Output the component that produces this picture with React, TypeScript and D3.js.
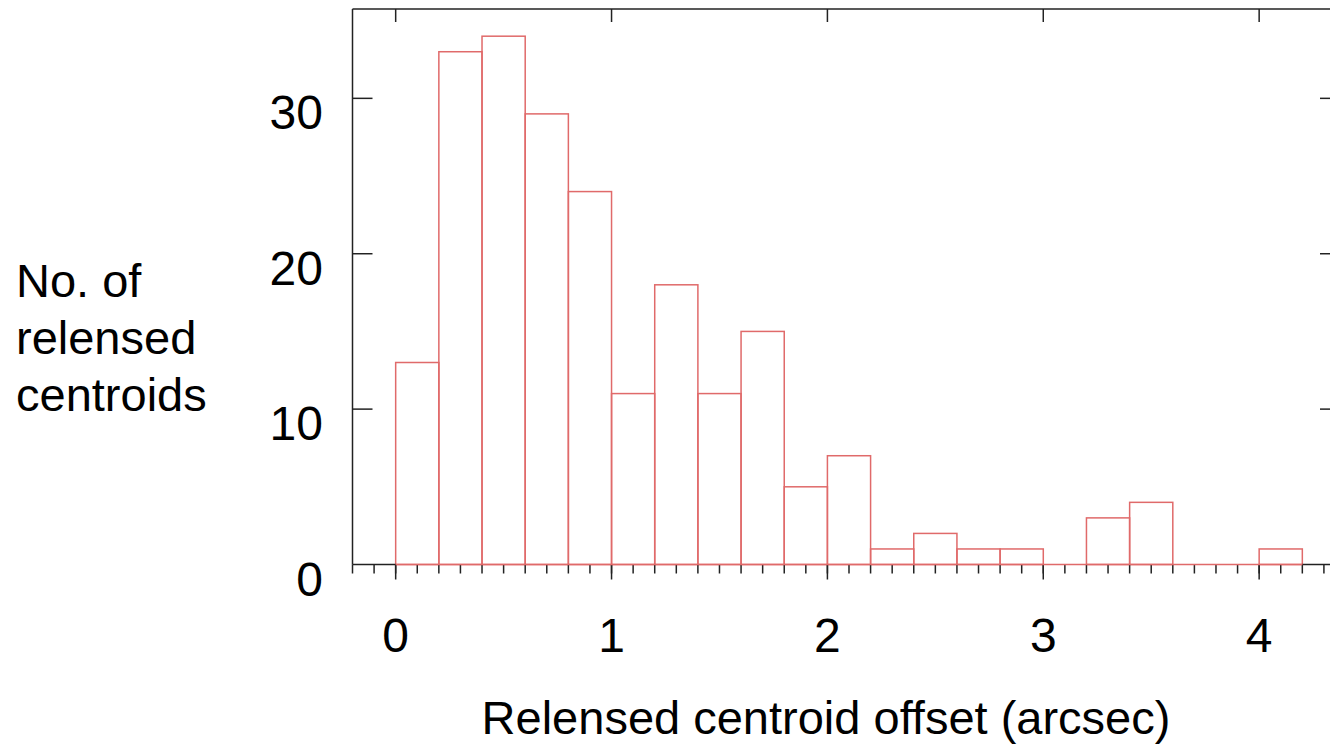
import React from 'react';
import * as d3 from 'd3';

// histogram bins (arcsec) and counts
const binLeft = [0, 0.2, 0.4, 0.6, 0.8, 1.0, 1.2, 1.4, 1.6, 1.8, 2.0, 2.2, 2.4, 2.6, 2.8, 3.0, 3.2, 3.4, 3.6, 3.8, 4.0];
const counts = [13, 33, 34, 29, 24, 11, 18, 11, 15, 5, 7, 1, 2, 1, 1, 0, 3, 4, 0, 0, 1];
const binWidth = 0.2;

const xTicks = [0, 1, 2, 3, 4];
const yTicks = [0, 10, 20, 30];
const yLabelLines = ['No. of', 'relensed', 'centroids'];
const xLabel = 'Relensed centroid offset (arcsec)';

const W = 1330;
const H = 745;
const left = 352.5;
const right = 1336;
const top = 9;
const bottom = 564.5;

const font = '"Liberation Sans", Arial, sans-serif';
const axisColor = '#222';
const barColor = '#e06a6a';

const App = () => {
  const x = d3.scaleLinear().domain([-0.2, 4.356]).range([left, right]);
  const y = d3.scaleLinear().domain([0, 35.75]).range([bottom, top]);

  const minor = d3.range(-2, 44).map(i => i / 10);

  return (
    <div style={{ position: 'absolute', left: 0, top: 0, width: W, height: H, overflow: 'hidden', background: '#fff' }}>
      <svg width={W} height={H}>
        {/* bars */}
        <g fill="none" stroke={barColor} strokeWidth={1.5}>
          {binLeft.map((b, i) => (
            <rect
              key={i}
              x={x(b)}
              y={y(counts[i])}
              width={x(b + binWidth) - x(b)}
              height={y(0) - y(counts[i])}
            />
          ))}
        </g>

        {/* frame */}
        <g stroke={axisColor} strokeWidth={1.5} fill="none">
          <line x1={left} y1={top} x2={right} y2={top} />
          <line x1={left} y1={top} x2={left} y2={bottom} />
          <line x1={right} y1={top} x2={right} y2={bottom} />
          <line x1={left} y1={bottom} x2={x(0)} y2={bottom} />
          <line x1={x(4.2)} y1={bottom} x2={right} y2={bottom} />

          {minor.map((t, i) => (
            <line key={'mn' + i} x1={x(t)} x2={x(t)} y1={bottom} y2={bottom + 9} />
          ))}
          {xTicks.map(t => (
            <line key={'bx' + t} x1={x(t)} x2={x(t)} y1={bottom} y2={bottom + 15} />
          ))}
          {xTicks.map(t => (
            <line key={'tx' + t} x1={x(t)} x2={x(t)} y1={top} y2={top + 13} />
          ))}
          {yTicks.filter(t => t > 0).map(t => (
            <line key={'ly' + t} x1={left} x2={left + 20} y1={y(t)} y2={y(t)} />
          ))}
          {yTicks.filter(t => t > 0).map(t => (
            <line key={'ry' + t} x1={right - 16} x2={right} y1={y(t)} y2={y(t)} />
          ))}
        </g>

        {/* redraw the red baseline over the axis where the bins sit */}
        <line x1={x(0)} x2={x(4.2)} y1={bottom} y2={bottom} stroke={barColor} strokeWidth={1.5} />

        {/* tick labels */}
        <g fontFamily={font} fontSize={48} fill="#000">
          {xTicks.map(t => (
            <text key={'xl' + t} x={x(t)} y={652} textAnchor="middle">{t}</text>
          ))}
          {yTicks.map(t => (
            <text key={'yl' + t} x={323} y={y(t) + 31} textAnchor="end">{t}</text>
          ))}
        </g>

        {/* axis titles */}
        <g fontFamily={font} fontSize={47} fill="#000">
          {yLabelLines.map((s, i) => (
            <text key={s} x={16} y={297 + i * 57}>{s}</text>
          ))}
          <text x={826} y={734} textAnchor="middle">{xLabel}</text>
        </g>
      </svg>
    </div>
  );
};

export default App;
